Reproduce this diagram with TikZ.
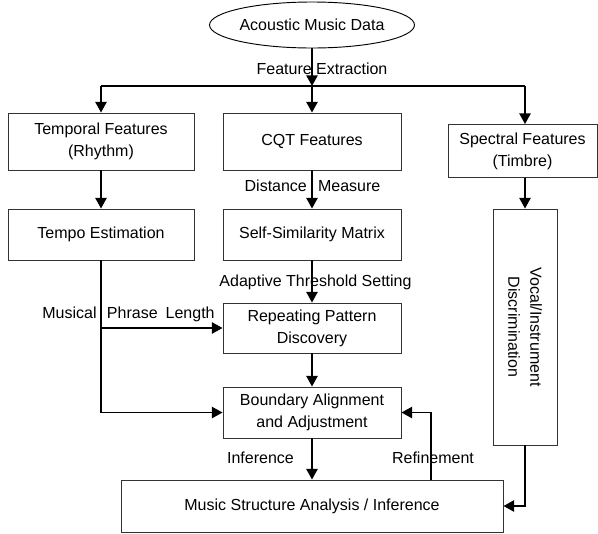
\documentclass[tikz,border=0pt]{standalone}
\usepackage{fontspec}
\setmainfont{Liberation Sans}
\usetikzlibrary{shapes.geometric,arrows.meta}

\begin{document}
\begin{tikzpicture}[x=0.75pt,y=-0.75pt,font=\fontsize{12}{16.5}\selectfont,
  box/.style={draw=black!80,line width=0.7pt,align=center,inner sep=2pt},
  arr/.style={line width=1.2pt,-{Triangle[length=8pt,width=8.5pt]}},
  lbl/.style={inner sep=1pt}]
\useasboundingbox (0,0) rectangle (598,533);

% source
\node[draw,ellipse,line width=0.7pt,minimum width=186*0.75pt,minimum height=46*0.75pt,inner sep=0pt] (data) at (312,25) {Acoustic Music Data};

% feature boxes
\node[box,minimum width=186*0.75pt,minimum height=57*0.75pt] (temporal) at (101,141.5) {Temporal Features\\(Rhythm)};
\node[box,minimum width=178*0.75pt,minimum height=57*0.75pt] (cqt) at (312,141.5) {CQT Features};
\node[box,minimum width=149*0.75pt,minimum height=53*0.75pt] (spectral) at (522.5,151) {Spectral Features\\(Timbre)};

% middle row
\node[box,minimum width=186*0.75pt,minimum height=51*0.75pt] (tempo) at (101,234.5) {Tempo Estimation};
\node[box,minimum width=178*0.75pt,minimum height=51*0.75pt] (ssm) at (312,234.5) {Self-Similarity Matrix};
\node[box,minimum width=178*0.75pt,minimum height=50*0.75pt] (repeat) at (312,328) {Repeating Pattern\\Discovery};
\node[box,minimum width=178*0.75pt,minimum height=51*0.75pt] (boundary) at (312,412.5) {Boundary Alignment\\and Adjustment};
\node[box,rotate=-90,minimum width=236*0.75pt,minimum height=64*0.75pt] (vocal) at (525,327) {Vocal/Instrument\\Discrimination};

% output
\node[box,minimum width=382*0.75pt,minimum height=52*0.75pt] (music) at (312,506) {Music Structure Analysis / Inference};

\coordinate (split) at (312,86);
\coordinate (fb) at (431,480);

% feature extraction
\draw[arr] (data.south) -- (split);
\draw[line width=1.2pt] (temporal.north |- split) -- (vocal |- split);
\draw[arr] (temporal.north |- split) -- (temporal.north);
\draw[arr] (split) -- (cqt.north);
\draw[arr] (vocal |- split) -- (vocal |- spectral.north);
\node[lbl] (fe) at (322,69) {Feature Extraction};

% cqt branch
\draw[arr] (cqt.south) -- (ssm.north);
\node[lbl] (dm) at (312.5,186) {Distance\hspace{0.7em}Measure};
\draw[arr] (ssm.south) -- (repeat.north);
\node[lbl] (ats) at (315.5,282) {Adaptive Threshold Setting};
\draw[arr] (repeat.south) -- (boundary.north);

% tempo branch
\draw[arr] (temporal.south) -- (tempo.north);
\draw[arr] (tempo.south) |- (boundary.west);
\draw[arr] (tempo.south |- repeat.west) -- (repeat.west);
\node[lbl] (mpl) at (128.5,314) {Musical\hspace{0.65em}Phrase\hspace{0.5em}Length};

% inference and refinement
\draw[arr] (boundary.south) -- (boundary.south |- music.north);
\node[lbl] (inf) at (260.5,458) {Inference};
\draw[arr] (fb) |- (boundary.east);
\node[lbl] (ref) at (433,458) {Refinement};

% spectral branch
\draw[arr] (vocal |- spectral.south) -- (vocal.west);
\draw[arr] (vocal.east) |- (music.east);
\end{tikzpicture}
\end{document}
